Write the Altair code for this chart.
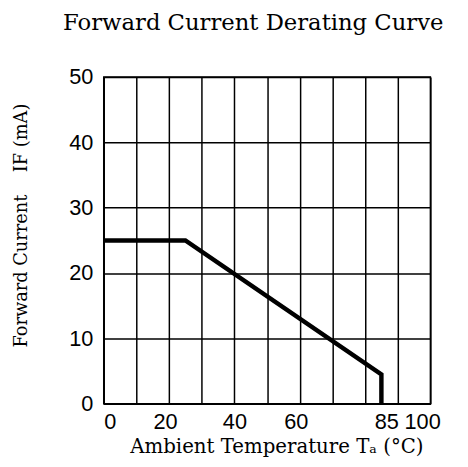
import altair as alt
import pandas as pd

# Derating curve (Ta in °C, IF in mA)
temp_c = [0, 25, 85, 85]
current_ma = [25, 25, 4.5, 0]

# Axis values
x_grid = [0, 10, 20, 30, 40, 50, 60, 70, 80, 90, 100]
x_labels = [0, 20, 40, 60, 85, 100]
y_ticks = [0, 10, 20, 30, 40, 50]

df = pd.DataFrame({"t": temp_c, "i": current_ma, "order": list(range(len(temp_c)))})

x_axis_values = sorted(set(x_grid + x_labels))
label_list = "[" + ",".join(str(v) for v in x_labels) + "]"
grid_list = "[" + ",".join(str(v) for v in x_grid) + "]"

tick_font = "Liberation Sans"
serif = "DejaVu Serif"
nb = "\u00a0"

chart = (
    alt.Chart(df)
    .mark_line(color="black", strokeWidth=4.5, strokeCap="butt", strokeJoin="miter")
    .encode(
        x=alt.X(
            "t:Q",
            scale=alt.Scale(domain=[0, 100], nice=False, zero=False),
            axis=alt.Axis(
                values=x_axis_values,
                labelExpr=f"indexof({label_list}, datum.value) >= 0 ? datum.label : ''",
                labelOverlap=False,
                labelOffset={
                    "condition": [
                        {"test": "datum.value == 100", "value": 10},
                        {"test": "datum.value == 85", "value": 5},
                        {"test": "datum.value == 20 || datum.value == 60", "value": -4},
                    ],
                    "value": 0,
                },
                gridOpacity={"condition": {"test": f"indexof({grid_list}, datum.value) < 0", "value": 0}, "value": 1},
                title="Ambient Temperature Tₐ (°C)",
                titleX=175,
                titleAlign="center",
            ),
        ),
        y=alt.Y(
            "i:Q",
            scale=alt.Scale(domain=[0, 50], nice=False),
            axis=alt.Axis(
                values=y_ticks,
                labelOverlap=False,
                title="Forward Current" + nb * 4 + "IF (mA)",
                titleY=150,
                titleX=-83,
                titleAlign="center",
                titleBaseline="middle",
                titleAngle=-90,
            ),
        ),
        order="order:Q",
    )
    .properties(
        width=331,
        height=331,
        title=alt.TitleParams(
            "Forward Current Derating Curve",
            font=serif,
            fontSize=23,
            fontWeight="normal",
            color="black",
            dx=-14,
            offset=32,
        ),
        autosize=alt.AutoSizeParams(type="none"),
        padding={"left": 97, "top": 67, "right": 30, "bottom": 53},
    )
    .configure_axis(
        grid=True,
        gridColor="black",
        gridWidth=1.5,
        domainColor="black",
        domainWidth=1.5,
        ticks=False,
        labelFont=tick_font,
        labelFontSize=22,
        labelColor="black",
        titleFont=serif,
        titleFontWeight="normal",
        titleColor="black",
    )
    .configure_axisX(labelPadding=8, titleFontSize=20, titlePadding=4)
    .configure_axisY(labelPadding=11, titleFontSize=18)
    .configure_view(stroke="black", strokeWidth=1.5)
)

chart.save("out.html", embed_options={"renderer": "svg", "actions": False})
